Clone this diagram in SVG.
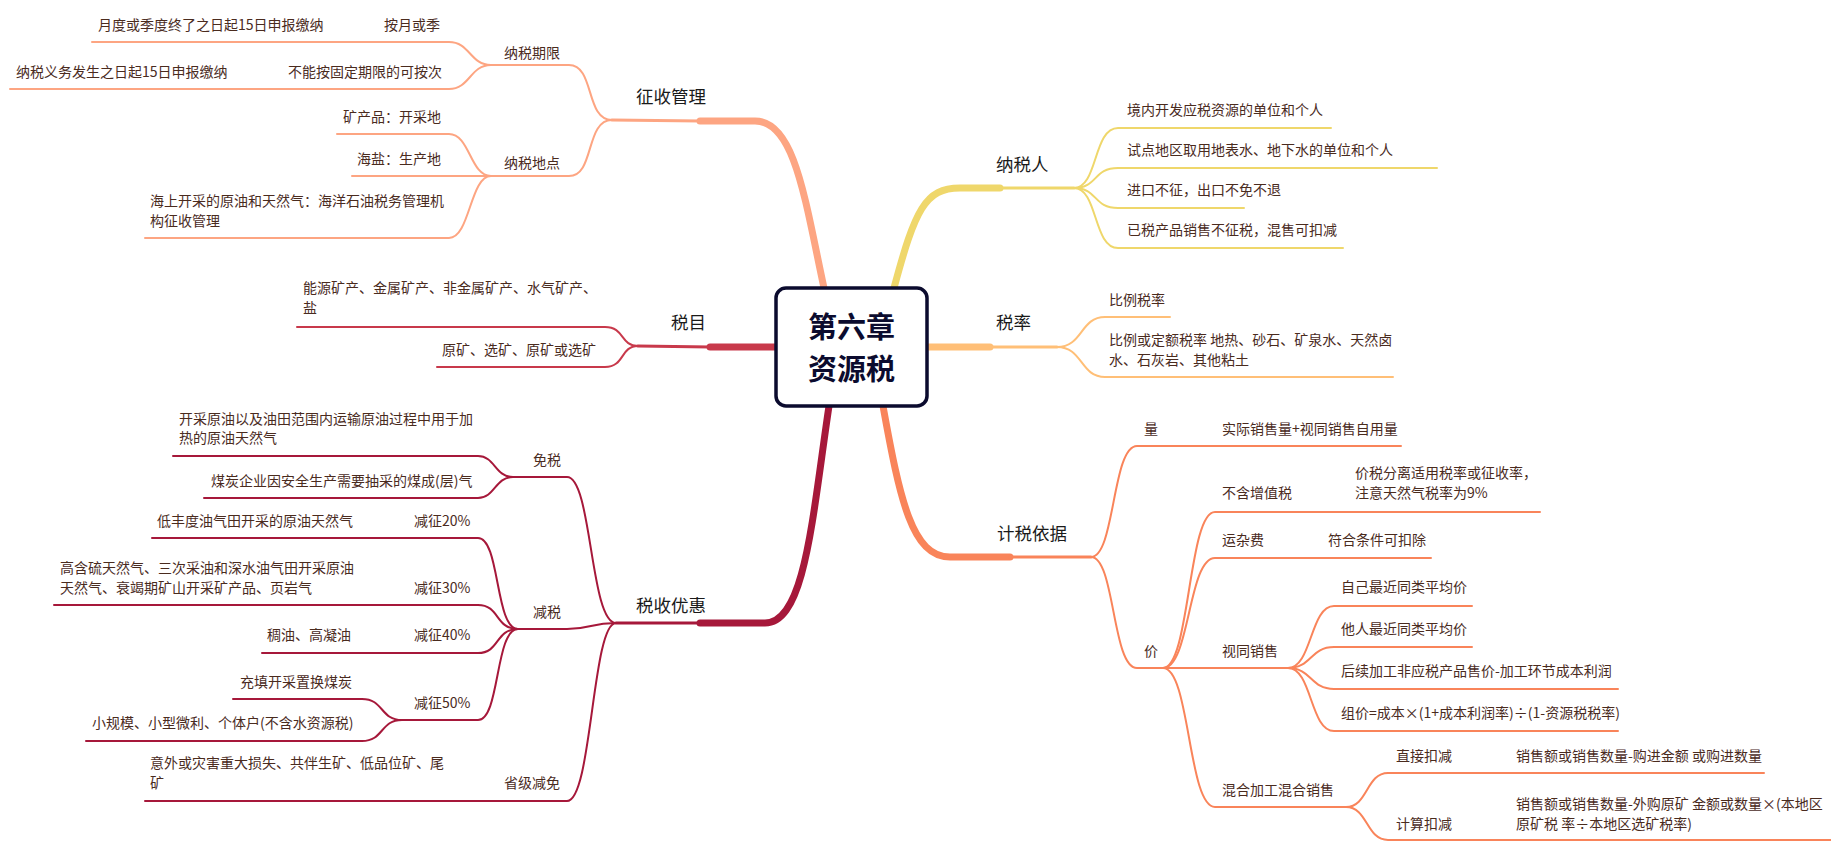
<svg xmlns="http://www.w3.org/2000/svg" width="1831" height="863" viewBox="0 0 1831 863">
<style>
text{font-family:"Noto Sans CJK SC","Noto Sans",sans-serif;}
.t{font-size:14px;fill:#4a2b1e;}
.m{font-size:17.5px;fill:#1a1a1a;}
.c path{fill:none;stroke-linecap:round;}
.thin{stroke-width:2;}
.mid{stroke-width:3;}
.thick{stroke-width:7;}
.c1{stroke:#FDA582;}.c2{stroke:#EFD76B;}.c3{stroke:#FFBF77;}.c4{stroke:#C8394B;}.c5{stroke:#A6183A;}.c6{stroke:#F9845A;}
</style>
<rect width="1831" height="863" fill="#fff"/>
<g id="connectors" class="c">
<path class="c1 thick" d="M824 288 C805 200,795 121,755 121 L700 121"/>
<path class="c1 mid" d="M700 121 L612 120"/>
<path class="c1 thin" d="M612 120 C585 120,595 65,569 65 L491 65"/>
<path class="c1 thin" d="M491 65 C470 65,470 42,449 42 L92 42"/>
<path class="c1 thin" d="M491 65 C470 65,470 89,449 89 L10 89"/>
<path class="c1 thin" d="M612 120 C585 120,595 176,569 176 L491 176"/>
<path class="c1 thin" d="M491 176 C470 176,470 134,449 134 L337 134"/>
<path class="c1 thin" d="M491 176 L352 176"/>
<path class="c1 thin" d="M491 176 C470 176,470 238,449 238 L145 238"/>

<path class="c2 thick" d="M894 288 C915 210,925 188,960 188 L1000 188"/>
<path class="c2 mid" d="M1000 188 L1074 188"/>
<path class="c2 thin" d="M1074 188 C1098 188,1093 128,1118 128 L1331 128"/>
<path class="c2 thin" d="M1074 188 C1098 188,1093 168,1118 168 L1437 168"/>
<path class="c2 thin" d="M1074 188 C1098 188,1093 208,1118 208 L1244 208"/>
<path class="c2 thin" d="M1074 188 C1098 188,1093 248,1118 248 L1343 248"/>

<path class="c3 thick" d="M927 347 L990 347"/>
<path class="c3 mid" d="M990 347 L1057 347"/>
<path class="c3 thin" d="M1057 347 C1083 347,1080 317,1105 317 L1170 317"/>
<path class="c3 thin" d="M1057 347 C1083 347,1080 377,1105 377 L1393 377"/>

<path class="c4 thick" d="M776 347 L710 347"/>
<path class="c4 mid" d="M710 347 L638 346"/>
<path class="c4 thin" d="M638 346 C620 346,625 327,605 327 L297 327"/>
<path class="c4 thin" d="M638 346 C620 346,625 367,605 367 L437 367"/>

<path class="c5 thick" d="M829 406 C812 520,805 623,765 623 L700 623"/>
<path class="c5 mid" d="M700 623 L616 623"/>
<path class="c5 thin" d="M616 623 C590 623,592 477,567 477 L513 477"/>
<path class="c5 thin" d="M513 477 C495 477,495 456,478 456 L173 456"/>
<path class="c5 thin" d="M513 477 C495 477,495 498,478 498 L204 498"/>
<path class="c5 thin" d="M616 623 C590 623,592 629,567 629 L518 629"/>
<path class="c5 thin" d="M518 629 C495 629,500 538,478 538 L152 538"/>
<path class="c5 thin" d="M518 629 C495 629,500 605,478 605 L54 605"/>
<path class="c5 thin" d="M518 629 C495 629,500 653,478 653 L262 653"/>
<path class="c5 thin" d="M518 629 C495 629,500 720,478 720 L402 720"/>
<path class="c5 thin" d="M402 720 C380 720,384 699,362 699 L233 699"/>
<path class="c5 thin" d="M402 720 C380 720,384 741,362 741 L86 741"/>
<path class="c5 thin" d="M616 623 C592 623,592 801,567 801 L145 801"/>

<path class="c6 thick" d="M883 406 C900 500,912 557,950 557 L1010 557"/>
<path class="c6 mid" d="M1010 557 L1091 557"/>
<path class="c6 thin" d="M1091 557 C1115 557,1112 446,1137 446 L1401 446"/>
<path class="c6 thin" d="M1091 557 C1115 557,1112 668,1137 668 L1163 668"/>
<path class="c6 thin" d="M1163 668 C1190 668,1188 512,1215 512 L1540 512"/>
<path class="c6 thin" d="M1163 668 C1190 668,1188 558,1215 558 L1431 558"/>
<path class="c6 thin" d="M1163 668 L1288 668"/>
<path class="c6 thin" d="M1288 668 C1312 668,1310 606,1334 606 L1472 606"/>
<path class="c6 thin" d="M1288 668 C1312 668,1310 647,1334 647 L1472 647"/>
<path class="c6 thin" d="M1288 668 C1312 668,1310 689,1334 689 L1618 689"/>
<path class="c6 thin" d="M1288 668 C1312 668,1310 731,1334 731 L1618 731"/>
<path class="c6 thin" d="M1163 668 C1190 668,1188 807,1215 807 L1346 807"/>
<path class="c6 thin" d="M1346 807 C1368 807,1366 773,1388 773 L1764 773"/>
<path class="c6 thin" d="M1346 807 C1368 807,1366 840,1388 840 L1831 840"/>
</g>

<g id="root">
<rect x="776" y="288" width="151" height="118" rx="10" fill="#fff" stroke="#0b0b2e" stroke-width="3.5"/>
<text x="851.5" y="338" text-anchor="middle" font-size="29" font-weight="bold" fill="#0b0b2e">第六章</text>
<text x="851.5" y="380" text-anchor="middle" font-size="29" font-weight="bold" fill="#0b0b2e">资源税</text>
</g>

<g id="zhengshou"><text class="m" x="636" y="103">征收管理</text></g>
<g id="nashuiqixian"><text class="t" x="504" y="58">纳税期限</text></g>
<g id="anyue"><text class="t" x="384" y="30">按月或季</text><text class="t" x="98" y="30">月度或季度终了之日起15日申报缴纳</text></g>
<g id="anci"><text class="t" x="288" y="77">不能按固定期限的可按次</text><text class="t" x="16" y="77">纳税义务发生之日起15日申报缴纳</text></g>
<g id="nashuididian"><text class="t" x="504" y="168">纳税地点</text></g>
<g id="kuangchanpin"><text class="t" x="343" y="122">矿产品：开采地</text></g>
<g id="haiyan"><text class="t" x="357" y="164">海盐：生产地</text></g>
<g id="haishang"><text class="t" x="150" y="206">海上开采的原油和天然气：海洋石油税务管理机</text><text class="t" x="150" y="226">构征收管理</text></g>

<g id="shuimu"><text class="m" x="671" y="329">税目</text></g>
<g id="nengyuan"><text class="t" x="303" y="293">能源矿产、金属矿产、非金属矿产、水气矿产、</text><text class="t" x="303" y="313">盐</text></g>
<g id="yuankuang"><text class="t" x="442" y="355">原矿、选矿、原矿或选矿</text></g>

<g id="youhui"><text class="m" x="636" y="612">税收优惠</text></g>
<g id="mianshui"><text class="t" x="533" y="465">免税</text></g>
<g id="mian1"><text class="t" x="179" y="424">开采原油以及油田范围内运输原油过程中用于加</text><text class="t" x="179" y="443">热的原油天然气</text></g>
<g id="mian2"><text class="t" x="211" y="486">煤炭企业因安全生产需要抽采的煤成(层)气</text></g>
<g id="jianshui"><text class="t" x="533" y="617">减税</text></g>
<g id="j20"><text class="t" x="414" y="526">减征20%</text><text class="t" x="157" y="526">低丰度油气田开采的原油天然气</text></g>
<g id="j30"><text class="t" x="414" y="593">减征30%</text><text class="t" x="60" y="573">高含硫天然气、三次采油和深水油气田开采原油</text><text class="t" x="60" y="593">天然气、衰竭期矿山开采矿产品、页岩气</text></g>
<g id="j40"><text class="t" x="414" y="640">减征40%</text><text class="t" x="267" y="640">稠油、高凝油</text></g>
<g id="j50"><text class="t" x="414" y="708">减征50%</text></g>
<g id="chongtian"><text class="t" x="240" y="687">充填开采置换煤炭</text></g>
<g id="xiaoguimo"><text class="t" x="92" y="728">小规模、小型微利、个体户(不含水资源税)</text></g>
<g id="shengji"><text class="t" x="504" y="788">省级减免</text><text class="t" x="150" y="768">意外或灾害重大损失、共伴生矿、低品位矿、尾</text><text class="t" x="150" y="788">矿</text></g>

<g id="nashuiren"><text class="m" x="996" y="171">纳税人</text></g>
<g id="nr1"><text class="t" x="1127" y="115">境内开发应税资源的单位和个人</text></g>
<g id="nr2"><text class="t" x="1127" y="155">试点地区取用地表水、地下水的单位和个人</text></g>
<g id="nr3"><text class="t" x="1127" y="195">进口不征，出口不免不退</text></g>
<g id="nr4"><text class="t" x="1127" y="235">已税产品销售不征税，混售可扣减</text></g>

<g id="shuilv"><text class="m" x="996" y="329">税率</text></g>
<g id="sl1"><text class="t" x="1109" y="305">比例税率</text></g>
<g id="sl2"><text class="t" x="1109" y="345">比例或定额税率 地热、砂石、矿泉水、天然卤</text><text class="t" x="1109" y="365">水、石灰岩、其他粘土</text></g>

<g id="jishui"><text class="m" x="997" y="540">计税依据</text></g>
<g id="liang"><text class="t" x="1144" y="434">量</text><text class="t" x="1222" y="434">实际销售量+视同销售自用量</text></g>
<g id="jia"><text class="t" x="1144" y="656">价</text></g>
<g id="buhan"><text class="t" x="1222" y="498">不含增值税</text><text class="t" x="1355" y="478">价税分离适用税率或征收率，</text><text class="t" x="1355" y="498">注意天然气税率为9%</text></g>
<g id="yunza"><text class="t" x="1222" y="545">运杂费</text><text class="t" x="1328" y="545">符合条件可扣除</text></g>
<g id="shitong"><text class="t" x="1222" y="656">视同销售</text></g>
<g id="st1"><text class="t" x="1341" y="592">自己最近同类平均价</text></g>
<g id="st2"><text class="t" x="1341" y="634">他人最近同类平均价</text></g>
<g id="st3"><text class="t" x="1341" y="676">后续加工非应税产品售价-加工环节成本利润</text></g>
<g id="st4"><text class="t" x="1341" y="718">组价=成本×(1+成本利润率)÷(1-资源税税率)</text></g>
<g id="hunhe"><text class="t" x="1222" y="795">混合加工混合销售</text></g>
<g id="zhijie"><text class="t" x="1396" y="761">直接扣减</text><text class="t" x="1516" y="761">销售额或销售数量-购进金额 或购进数量</text></g>
<g id="jisuan"><text class="t" x="1396" y="829">计算扣减</text><text class="t" x="1516" y="809">销售额或销售数量-外购原矿  金额或数量×(本地区</text><text class="t" x="1516" y="829">原矿税 率÷本地区选矿税率)</text></g>
</svg>
